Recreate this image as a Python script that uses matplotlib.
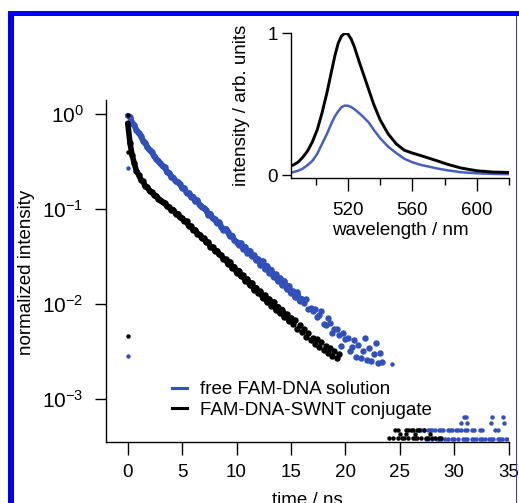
import numpy as np
import matplotlib
matplotlib.use("Agg")
import matplotlib.pyplot as plt
from matplotlib.lines import Line2D
from matplotlib.patches import Rectangle

plt.rcParams["font.family"] = "Liberation Sans"
plt.rcParams["mathtext.fontset"] = "custom"
plt.rcParams["mathtext.rm"] = "Liberation Sans"
plt.rcParams["mathtext.default"] = "regular"

# ---- decay data (log10 of normalized intensity, 0.2 ns channels) ----
t_blue = np.arange(1, 118) * 0.2
blue_log = [
    -0.03, -0.09, -0.12, -0.17, -0.20,
    -0.23, -0.28, -0.30, -0.35, -0.38,
    -0.40, -0.44, -0.47, -0.49, -0.52,
    -0.55, -0.56, -0.61, -0.62, -0.66,
    -0.67, -0.71, -0.72, -0.74, -0.78,
    -0.78, -0.83, -0.83, -0.87, -0.87,
    -0.92, -0.91, -0.96, -0.98, -0.99,
    -1.01, -1.06, -1.05, -1.10, -1.11,
    -1.15, -1.14, -1.19, -1.22, -1.21,
    -1.24, -1.29, -1.28, -1.33, -1.35,
    -1.38, -1.36, -1.42, -1.40, -1.46,
    -1.44, -1.50, -1.49, -1.54, -1.53,
    -1.59, -1.55, -1.63, -1.60, -1.67,
    -1.64, -1.72, -1.69, -1.76, -1.73,
    -1.80, -1.76, -1.84, -1.81, -1.89,
    -1.87, -1.93, -1.88, -1.97, -1.95,
    -1.99, -1.95, -2.05, -2.04, -2.08,
    -2.05, -2.14, -2.12, -2.08, -2.21,
    -2.22, -2.15, -2.20, -2.31, -2.26,
    -2.27, -2.33, -2.44, -2.31, -2.37,
    -2.36, -2.50, -2.45, -2.38, -2.56,
    -2.43, -2.57, -2.50, -2.36, -2.59,
    -2.47, -2.60, -2.53, -2.41, -2.62,
    -2.52, -2.61,
]
t_black = np.arange(1, 98) * 0.2
black_log = [
    -0.30, -0.43, -0.52, -0.60, -0.64,
    -0.69, -0.71, -0.76, -0.77, -0.81,
    -0.82, -0.85, -0.86, -0.89, -0.91,
    -0.93, -0.94, -0.97, -0.98, -1.01,
    -1.01, -1.05, -1.05, -1.09, -1.10,
    -1.13, -1.13, -1.18, -1.18, -1.22,
    -1.22, -1.26, -1.27, -1.31, -1.31,
    -1.35, -1.35, -1.40, -1.40, -1.44,
    -1.44, -1.48, -1.49, -1.53, -1.53,
    -1.58, -1.56, -1.62, -1.61, -1.67,
    -1.65, -1.71, -1.70, -1.76, -1.74,
    -1.80, -1.78, -1.85, -1.83, -1.89,
    -1.87, -1.94, -1.91, -1.98, -1.95,
    -2.02, -1.98, -2.06, -2.03, -2.10,
    -2.06, -2.14, -2.11, -2.18, -2.15,
    -2.21, -2.17, -2.27, -2.22, -2.30,
    -2.26, -2.35, -2.31, -2.38, -2.36,
    -2.42, -2.37, -2.46, -2.40, -2.49,
    -2.44, -2.52, -2.47, -2.55, -2.50,
    -2.57, -2.53,
]
# points in the zero-time channel
blue_t0 = [0.96, 0.27, 0.0028]
black_t0 = [0.98, 0.80, 0.40, 0.0046]
# single-count noise floor at late times
blue_tail_t = [26.8, 27.0, 27.2, 27.6, 27.8, 28.0, 28.2, 28.6, 28.8, 29.0, 29.4, 29.6,
               29.8, 30.2, 30.4, 30.6, 31.0, 31.2, 31.6, 31.8, 32.4, 32.6, 33.8, 34.0,
               27.4, 27.6, 28.0, 28.4, 28.6, 28.8, 29.2, 29.4, 29.8, 30.0, 30.4, 30.8,
               31.0, 31.2, 31.6, 31.8, 32.0, 32.4, 32.6, 32.8, 33.2, 33.4, 33.6, 34.0,
               34.2, 34.4, 34.8, 35.0,
               30.6, 31.2, 33.4, 34.6, 30.9, 31.1, 33.5, 34.5, 24.3]
blue_tail_v = [4.7e-4] * 24 + [3.8e-4] * 28 + [5.5e-4] * 4 + [6.4e-4] * 4 + [2.3e-3]
black_tail_t = [24.6, 24.8, 25.6, 25.8, 26.0, 26.2, 26.6, 26.8, 27.2,
                24.0, 24.4, 24.8, 25.2, 25.4, 25.8, 26.2, 26.4, 26.6, 27.0, 27.4,
                27.6, 28.0, 28.2, 28.6, 28.8,
                25.0, 25.6, 26.4, 27.8]
black_tail_v = [4.7e-4] * 9 + [3.85e-4] * 16 + [4.3e-4] * 4

# ---- steady-state spectra ----
wavelength = [486, 489, 492, 495, 498, 501, 504, 507, 510, 512, 514, 516, 518, 520,
              522, 524, 527, 530, 533, 536, 540, 545, 550, 555, 560, 565, 570, 576,
              582, 590, 600, 610, 620]
spec_black = [0.07, 0.09, 0.125, 0.17, 0.235, 0.32, 0.44, 0.58, 0.74, 0.845, 0.93, 0.98,
              1.0, 0.995, 0.96, 0.905, 0.80, 0.70, 0.60, 0.50, 0.39, 0.29, 0.22, 0.175,
              0.155, 0.138, 0.12, 0.098, 0.075, 0.05, 0.03, 0.021, 0.018]
spec_blue = [0.02, 0.03, 0.045, 0.07, 0.10, 0.15, 0.22, 0.29, 0.37, 0.415, 0.45, 0.478,
             0.49, 0.489, 0.48, 0.465, 0.437, 0.405, 0.37, 0.32, 0.26, 0.20, 0.155,
             0.115, 0.09, 0.072, 0.06, 0.045, 0.033, 0.02, 0.012, 0.008, 0.006]

labels = ["free FAM-DNA solution", "FAM-DNA-SWNT conjugate"]

BLUE = "#3050bc"
BLUE_LINE = "#4560c2"
BLACK = "#000000"

W, H = 519, 503
fig = plt.figure(figsize=(W / 100, H / 100), dpi=100)


def px_box(l, t, r, b):
    return [l / W, 1 - b / H, (r - l) / W, (b - t) / H]


# blue frame around the figure
fig.add_artist(Rectangle((8 / W, 0), 6 / W, (H - 11) / H, transform=fig.transFigure,
                         color="#0000ff", lw=0))
fig.add_artist(Rectangle((8 / W, 1 - 16 / H), (W - 8) / W, 5 / H, transform=fig.transFigure,
                         color="#0000ff", lw=0))
fig.add_artist(Rectangle((515.5 / W, 0), 1.2 / W, (H - 16) / H, transform=fig.transFigure,
                         color="#3030ff", lw=0))

# ---- main decay axes ----
ax = fig.add_axes(px_box(106, 100, 508.5, 442))
ax.set_yscale("log")
ms = 4.6
bv = 10 ** np.array(blue_log)
kv = 10 ** np.array(black_log)
# dense, low-noise part drawn as a solid band under the points
n_blue, n_black = 80, 75
ax.plot(np.r_[0, t_blue[:n_blue]], np.r_[blue_t0[0], bv[:n_blue]], "-", color=BLUE,
        lw=4.2, solid_capstyle="round")
ax.plot(t_blue, bv, "o", ms=ms, mew=0, color=BLUE)
ax.plot([0] * len(blue_t0), blue_t0, "o", ms=3.2, mew=0, color=BLUE)
ax.plot(blue_tail_t, blue_tail_v, "o", ms=3.2, mew=0, color=BLUE)
ax.plot(np.r_[0, t_black[:n_black]], np.r_[black_t0[1], kv[:n_black]], "-", color=BLACK,
        lw=4.0, solid_capstyle="round")
ax.plot(t_black, kv, "o", ms=ms, mew=0, color=BLACK)
ax.plot([0] * len(black_t0), black_t0, "o", ms=3.2, mew=0, color=BLACK)
ax.plot(black_tail_t, black_tail_v, "o", ms=3.2, mew=0, color=BLACK)

ax.set_xlim(-2.0, 35.0)
ax.set_ylim(10 ** -3.456, 10 ** 0.148)
ax.set_xticks([0, 5, 10, 15, 20, 25, 30, 35])
ax.set_yticks([1, 1e-1, 1e-2, 1e-3])
ax.set_yticklabels([r"$10^{0}$", r"$10^{-1}$", r"$10^{-2}$", r"$10^{-3}$"])
ax.yaxis.set_minor_locator(matplotlib.ticker.NullLocator())
ax.xaxis.set_minor_locator(matplotlib.ticker.NullLocator())
for s in ["top", "right"]:
    ax.spines[s].set_visible(False)
for s in ["left", "bottom"]:
    ax.spines[s].set_linewidth(1.0)
ax.tick_params(axis="y", direction="out", length=8, width=1.0, pad=8, labelsize=15)
ax.tick_params(axis="x", direction="out", length=9, width=1.0, pad=7, labelsize=13.5)
ax.set_facecolor("none")
ax.set_xlabel("time / ns", fontsize=13.5)
ax.xaxis.set_label_coords(0.5, -0.145)
ax.set_ylabel("normalized intensity", fontsize=13.5)
ax.yaxis.set_label_coords(-0.176, 0.497)

handles = [Line2D([], [], color=BLUE, lw=2.2), Line2D([], [], color=BLACK, lw=2.2)]
ax.legend(handles, labels, loc="upper left", bbox_to_anchor=(172 / W, 1 - 381 / H),
          bbox_transform=fig.transFigure, frameon=False, fontsize=13.5,
          handlelength=0.8, handletextpad=0.7, labelspacing=0.2,
          borderpad=0, borderaxespad=0)

# ---- inset spectra ----
ax_in = fig.add_axes(px_box(291, 33, 509, 178))
ax_in.plot(wavelength, spec_blue, color=BLUE_LINE, lw=1.8)
ax_in.plot(wavelength, spec_black, color=BLACK, lw=2.1)
ax_in.set_xlim(484.7, 620)
ax_in.set_ylim(-0.021, 1.002)
ax_in.set_xticks([520, 560, 600])
ax_in.set_xticks([500, 540, 580, 620], minor=True)
ax_in.set_yticks([0, 1])
ax_in.set_yticklabels(["0", "1"])
for s in ["top", "right"]:
    ax_in.spines[s].set_visible(False)
for s in ["left", "bottom"]:
    ax_in.spines[s].set_linewidth(1.0)
ax_in.tick_params(axis="y", direction="out", length=6.5, width=1.0, pad=3, labelsize=13.5)
ax_in.tick_params(axis="x", which="major", direction="out", length=9, width=1.0, pad=8,
                  labelsize=13.5)
ax_in.tick_params(axis="x", which="minor", direction="out", length=5, width=1.0)
ax_in.set_facecolor("none")
ax_in.set_xlabel("wavelength / nm", fontsize=13.5)
ax_in.xaxis.set_label_coords(0.5, -0.305)
ax_in.set_ylabel("intensity / arb. units", fontsize=13.5)
ax_in.yaxis.set_label_coords(-0.188, 0.503)

fig.savefig("out.png", dpi=100)
